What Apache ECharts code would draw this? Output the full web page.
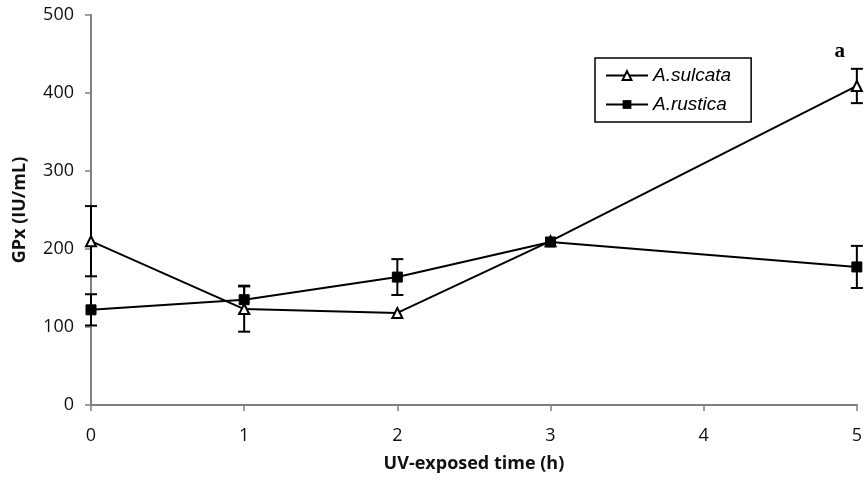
<!DOCTYPE html>
<html>
<head>
<meta charset="utf-8">
<script src="https://cdn.jsdelivr.net/npm/echarts@6/dist/echarts.min.js"></script>
<style>
  html, body { margin: 0; padding: 0; background: #fff; }
  #chart { width: 865px; height: 481px; }
</style>
</head>
<body>
<div id="chart"></div>
<script>
// UV exposure times (h)
const hours = [0, 1, 2, 3, 5];

// GPx activity (IU/mL), mean and error half-width
const sulcataMean = [210, 123, 118, 210, 409];
const sulcataErr  = [45, 29, 0, 0, 22];
const rusticaMean = [122, 135, 164, 209, 177];
const rusticaErr  = [20, 18, 23, 0, 27];

const yTicks = { min: 0, max: 500, interval: 100 };
const xTicks = { min: 0, max: 5, interval: 1 };

const sulcataName = 'A.sulcata';
const rusticaName = 'A.rustica';
const sigLabel = 'a';

const pairs = (xs, ys) => xs.map((x, i) => [x, ys[i]]);
const errRows = (xs, m, e) => xs.map((x, i) => [x, m[i] - e[i], m[i] + e[i]]).filter(r => r[2] > r[1]);

function errorBar(params, api) {
  const x = api.value(0);
  const lo = api.coord([x, api.value(1)]);
  const hi = api.coord([x, api.value(2)]);
  const cap = 6;
  const style = { stroke: '#000', lineWidth: 2, fill: null };
  return {
    type: 'group',
    children: [
      { type: 'line', shape: { x1: lo[0], y1: lo[1], x2: hi[0], y2: hi[1] }, style },
      { type: 'line', shape: { x1: lo[0] - cap, y1: lo[1], x2: lo[0] + cap, y2: lo[1] }, style },
      { type: 'line', shape: { x1: hi[0] - cap, y1: hi[1], x2: hi[0] + cap, y2: hi[1] }, style }
    ]
  };
}

const sulcataPoints = pairs(hours, sulcataMean).map((p, i) =>
  i === hours.length - 1
    ? { value: p, label: { show: true, formatter: sigLabel, position: 'top', distance: 18, offset: [-17, 0],
        fontFamily: 'Liberation Serif', fontWeight: 'bold', fontSize: 21, color: '#000' } }
    : p);

const chart = echarts.init(document.getElementById('chart'));
const axisFont = { fontFamily: 'Open Sans', fontSize: 18, color: '#111' };
const nameFont = { fontFamily: 'Open Sans', fontSize: 18, fontWeight: 'bold', color: '#111' };

chart.setOption({
  animation: false,
  grid: { left: 91, right: 5, top: 15, bottom: 76 },
  xAxis: {
    type: 'value', min: xTicks.min, max: xTicks.max, interval: xTicks.interval,
    name: 'UV-exposed time (h)', nameLocation: 'middle', nameGap: 50,
    nameTextStyle: nameFont,
    axisLine: { lineStyle: { color: '#808080', width: 2 } },
    axisTick: { show: true, length: 6, lineStyle: { color: '#808080', width: 1.5 } },
    axisLabel: Object.assign({ margin: 22 }, axisFont),
    splitLine: { show: false }
  },
  yAxis: {
    type: 'value', min: yTicks.min, max: yTicks.max, interval: yTicks.interval,
    name: 'GPx (IU/mL)', nameLocation: 'middle', nameGap: 62, nameRotate: 90,
    nameTextStyle: nameFont,
    axisLine: { show: true, lineStyle: { color: '#808080', width: 2 } },
    axisTick: { show: true, length: 6, lineStyle: { color: '#808080', width: 1.5 } },
    axisLabel: Object.assign({ margin: 17 }, axisFont),
    splitLine: { show: false }
  },
  legend: {
    orient: 'vertical', left: 595, top: 58,
    padding: [8, 20, 8, 10],
    itemGap: 10, itemWidth: 42, itemHeight: 11,
    borderColor: '#000', borderWidth: 1.5,
    textStyle: { fontFamily: 'Liberation Sans', fontStyle: 'italic', fontSize: 19, color: '#000' },
    data: [sulcataName, rusticaName]
  },
  series: [
    {
      name: 'sulcata-err', type: 'custom', renderItem: errorBar,
      data: errRows(hours, sulcataMean, sulcataErr), z: 1, silent: true
    },
    {
      name: 'rustica-err', type: 'custom', renderItem: errorBar,
      data: errRows(hours, rusticaMean, rusticaErr), z: 1, silent: true
    },
    {
      name: sulcataName, type: 'line', data: sulcataPoints,
      symbol: 'triangle', symbolSize: 10, showAllSymbol: true,
      lineStyle: { color: '#000', width: 2 },
      itemStyle: { color: '#fff', borderColor: '#000', borderWidth: 2 },
      z: 3
    },
    {
      name: rusticaName, type: 'line', data: pairs(hours, rusticaMean),
      symbol: 'rect', symbolSize: 10, showAllSymbol: true,
      lineStyle: { color: '#000', width: 2 },
      itemStyle: { color: '#000', borderColor: '#000' },
      z: 3
    }
  ]
});
</script>
</body>
</html>
